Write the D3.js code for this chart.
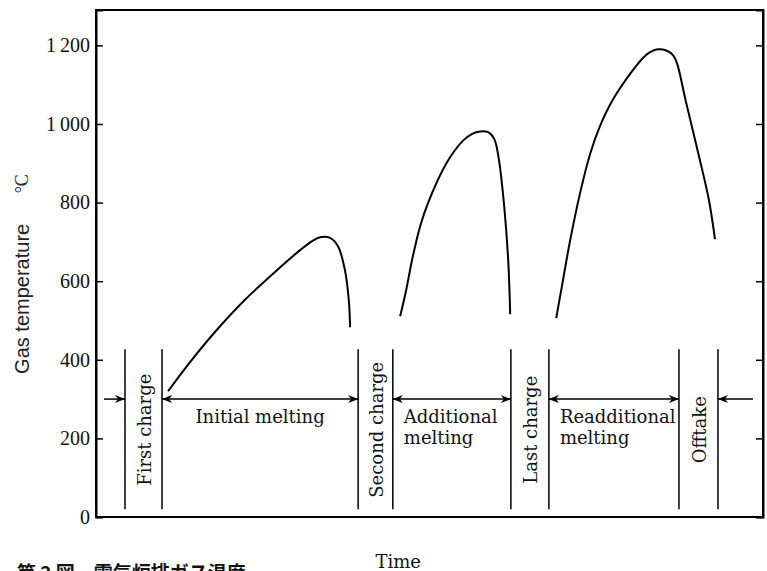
<!DOCTYPE html>
<html>
<head>
<meta charset="utf-8">
<script src="https://cdn.jsdelivr.net/npm/d3@7"></script>
<style>
  body { margin: 0; background: #fff; }
  svg { display: block; overflow: hidden; }
  .axis path, .axis line { stroke: #000; }
  .axis text { font-family: "Liberation Serif", serif; font-size: 20px; fill: #111; }
  .lbl { font-family: "DejaVu Serif", serif; font-size: 18px; fill: #111; }
</style>
</head>
<body>
<div id="chart"></div>
<script>
// time runs 0..100 (arbitrary units), temperature in degrees C
var yTicks = [0, 200, 400, 600, 800, 1000, 1200];

var curveInitial = [[10.8, 320], [14.1, 394], [17.8, 470], [22.3, 552], [26.8, 623], [30.6, 679],
  [32.4, 702], [33.6, 712], [35.1, 710], [36.3, 688], [37.3, 630], [37.9, 552], [38.1, 483]];
var curveAdditional = [[45.6, 511], [46.5, 577], [47.4, 655], [48.6, 740], [49.8, 800], [52.6, 902],
  [55.0, 957], [56.4, 975], [57.6, 981], [58.8, 979], [59.7, 962], [60.4, 910], [61.2, 790],
  [61.8, 653], [62.1, 516]];
var curveReadditional = [[69.0, 506], [69.9, 592], [71.1, 705], [72.6, 826], [74.1, 925], [75.5, 992],
  [77.5, 1062], [80.1, 1128], [82.0, 1168], [83.0, 1182], [84.2, 1190], [85.5, 1187], [86.5, 1175],
  [87.1, 1155], [88.4, 1060], [90.4, 918], [91.9, 806], [92.8, 707]];

var phaseBounds = [4.35, 9.9, 39.3, 44.5, 62.2, 67.9, 87.4, 93.25];
var phaseLineRange = [20, 427];
var chargeLabels = ["First charge", "Second charge", "Last charge", "Offtake"];
var meltLabels = [["Initial melting"], ["Additional", "melting"], ["Readditional", "melting"]];
var arrowLevel = 300;
// [from, to, heads]
var arrowSpans = [[1.2, 4.35, "end"], [9.9, 39.3, "both"], [44.5, 62.2, "both"],
  [67.9, 87.4, "both"], [98.5, 93.25, "end"]];

var W = 767, H = 571;
var margin = {top: 10, right: 4, bottom: 54, left: 96};

var svg = d3.select("#chart").append("svg")
  .attr("width", W)
  .attr("height", H);

var x = d3.scaleLinear().domain([0, 100]).range([margin.left, W - margin.right]);
var y = d3.scaleLinear().domain([0, 1290]).range([H - margin.bottom, margin.top]);

//frame
svg.append("rect")
  .attr("x", x(0)).attr("y", y(1290))
  .attr("width", x(100) - x(0)).attr("height", y(0) - y(1290))
  .attr("fill", "none").attr("stroke", "#000").attr("stroke-width", 2);

function fmt(d) {
  return d >= 1000 ? Math.floor(d / 1000) + "\u2009" + d3.format("03")(d % 1000) : d;
}

var yAxis = svg.append("g").attr("class", "axis")
  .attr("transform", "translate(" + x(0) + ",0)")
  .call(d3.axisLeft(y).tickValues(yTicks).tickSize(-7).tickPadding(6).tickFormat(fmt));
yAxis.select(".domain").attr("stroke-width", 2);
yAxis.selectAll("line").attr("stroke-width", 1.5);

var yAxisR = svg.append("g").attr("class", "axis")
  .attr("transform", "translate(" + x(100) + ",0)")
  .call(d3.axisRight(y).tickValues(yTicks).tickSize(-7).tickFormat(""));
yAxisR.select(".domain").attr("stroke-width", 2);
yAxisR.selectAll("line").attr("stroke-width", 1.5);

//temperature curves
var line = d3.line()
  .x(function(d) { return x(d[0]); })
  .y(function(d) { return y(d[1]); })
  .curve(d3.curveCatmullRom.alpha(0.5));

svg.selectAll("path.temp")
  .data([curveInitial, curveAdditional, curveReadditional])
  .enter().append("path")
  .attr("class", "temp")
  .attr("d", line)
  .attr("fill", "none")
  .attr("stroke", "#000")
  .attr("stroke-width", 2);

//phase boundaries
svg.selectAll("line.phase")
  .data(phaseBounds)
  .enter().append("line")
  .attr("class", "phase")
  .attr("x1", function(d) { return x(d); })
  .attr("x2", function(d) { return x(d); })
  .attr("y1", y(phaseLineRange[0]))
  .attr("y2", y(phaseLineRange[1]))
  .attr("stroke", "#000")
  .attr("stroke-width", 1.5);

//arrow marker
var defs = svg.append("defs");
defs.append("marker")
  .attr("id", "head")
  .attr("viewBox", "0 -5 10 10")
  .attr("refX", 10).attr("refY", 0)
  .attr("markerWidth", 10).attr("markerHeight", 10)
  .attr("markerUnits", "userSpaceOnUse")
  .attr("orient", "auto-start-reverse")
  .append("path")
  .attr("d", "M0,-4L10,0L0,4L3,0Z")
  .attr("fill", "#000");

svg.selectAll("line.arrow")
  .data(arrowSpans)
  .enter().append("line")
  .attr("class", "arrow")
  .attr("x1", function(d) { return x(d[0]); })
  .attr("x2", function(d) { return x(d[1]); })
  .attr("y1", y(arrowLevel))
  .attr("y2", y(arrowLevel))
  .attr("stroke", "#000")
  .attr("stroke-width", 1.5)
  .attr("marker-end", "url(#head)")
  .attr("marker-start", function(d) { return d[2] == "both" ? "url(#head)" : null; });

//charge labels, rotated
chargeLabels.forEach(function(t, i) {
  var cx = (x(phaseBounds[i * 2]) + x(phaseBounds[i * 2 + 1])) / 2;
  svg.append("text")
    .attr("class", "lbl")
    .attr("transform", "translate(" + (cx + 1) + "," + y(222) + ") rotate(-90)")
    .attr("text-anchor", "middle")
    .attr("dy", "0.35em")
    .text(t);
});

//melting labels (two-line ones as separate texts)
meltLabels.forEach(function(lines, i) {
  var x0 = x(phaseBounds[i * 2 + 1]), x1 = x(phaseBounds[i * 2 + 2]);
  if (lines.length == 1) {
    svg.append("text").attr("class", "lbl")
      .attr("x", (x0 + x1) / 2).attr("y", y(240)).attr("text-anchor", "middle").text(lines[0]);
  } else {
    lines.forEach(function(l, j) {
      svg.append("text").attr("class", "lbl")
        .attr("x", x0 + 11).attr("y", y(240) + j * 21).text(l);
    });
  }
});

//axis titles
svg.append("text")
  .attr("transform", "translate(22," + y(555) + ") rotate(-90)")
  .attr("text-anchor", "middle")
  .attr("dy", "0.35em")
  .style("font-family", "'Liberation Sans', sans-serif")
  .style("font-size", "20px")
  .attr("fill", "#222")
  .text("Gas temperature");

svg.append("text")
  .attr("transform", "translate(22," + y(848) + ") rotate(-90)")
  .attr("text-anchor", "middle")
  .attr("dy", "0.35em")
  .style("font-family", "'Liberation Serif', serif")
  .style("font-size", "18px")
  .attr("fill", "#222")
  .text("°C");

svg.append("text")
  .attr("class", "lbl")
  .attr("x", x(45.3))
  .attr("y", 568)
  .attr("text-anchor", "middle")
  .text("Time");

//caption, cut off by the page edge
svg.append("text")
  .attr("x", 17)
  .attr("y", 580)
  .style("font-family", "'Noto Sans CJK JP', sans-serif")
  .style("font-size", "19px")
  .style("font-weight", "bold")
  .attr("fill", "#111")
  .attr("xml:space", "preserve")
  .text("第 2 図　電気炉排ガス温度");
</script>
</body>
</html>
